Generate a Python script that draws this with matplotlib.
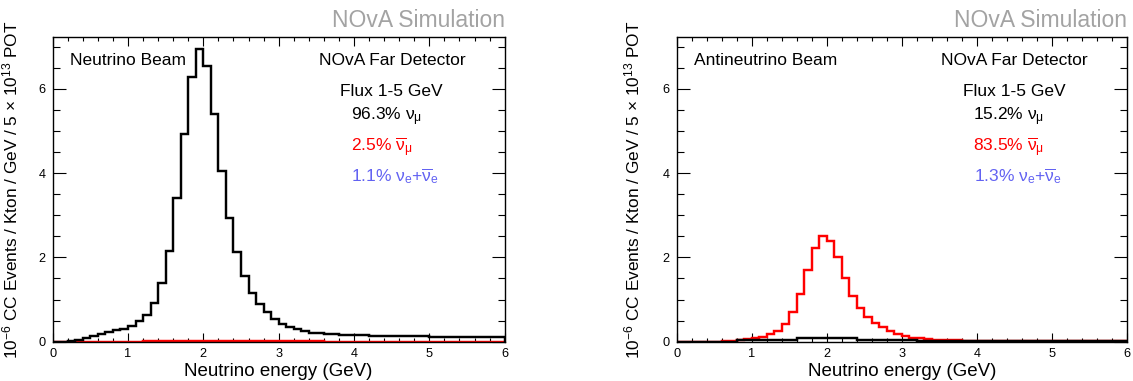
import numpy as np
import matplotlib
matplotlib.use("Agg")
import matplotlib.pyplot as plt
from matplotlib.ticker import MultipleLocator

plt.rcParams['font.family'] = ['Liberation Sans', 'DejaVu Sans']
plt.rcParams['mathtext.fontset'] = 'custom'
plt.rcParams['mathtext.rm'] = 'Liberation Sans'
plt.rcParams['mathtext.it'] = 'Liberation Sans'
plt.rcParams['mathtext.bf'] = 'Liberation Sans:bold'

# 60 bins of 0.1 GeV from 0 to 6 GeV
bin_edges = np.round(np.arange(0, 6.01, 0.1), 2)

# Neutrino beam
nu_beam_numu = [0, 0, 0.02, 0.05, 0.09, 0.13, 0.18, 0.23, 0.28, 0.30,
                0.37, 0.48, 0.64, 0.92, 1.40, 2.15, 3.40, 4.92, 6.28, 6.95,
                6.55, 5.40, 4.05, 2.93, 2.13, 1.55, 1.15, 0.90, 0.70, 0.55,
                0.43, 0.35, 0.30, 0.25, 0.21, 0.20, 0.19, 0.18, 0.17, 0.16,
                0.15, 0.15, 0.14, 0.14, 0.13, 0.13, 0.13, 0.13, 0.13, 0.13,
                0.12, 0.12, 0.12, 0.12, 0.12, 0.12, 0.12, 0.12, 0.12, 0.12]
nu_beam_numubar = [0] * 12 + [0.02] * 24 + [0] * 24

# Antineutrino beam
anu_beam_numu = [0] * 8 + [0.03] * 4 + [0.05] * 4 + [0.09] * 8 + [0.05] * 8 + [0.02] * 28
anu_beam_numubar = [0, 0, 0, 0, 0, 0, 0.01, 0.02, 0.04, 0.06,
                    0.09, 0.12, 0.18, 0.26, 0.42, 0.70, 1.12, 1.70, 2.22, 2.50,
                    2.38, 2.00, 1.50, 1.08, 0.80, 0.58, 0.44, 0.34, 0.25, 0.18,
                    0.13, 0.10, 0.08, 0.06, 0.04, 0.03, 0.03, 0.03, 0.02, 0.02,
                    0.02, 0.02, 0.02, 0.02, 0.02, 0.02, 0.02, 0.02, 0.02, 0.02,
                    0.02, 0.02, 0.02, 0.02, 0.02, 0.02, 0.02, 0.02, 0.02, 0.02]

beam_titles = ["Neutrino Beam", "Antineutrino Beam"]
numu_fracs = ["96.3%", "15.2%"]
numubar_fracs = ["2.5%", "83.5%"]
nue_fracs = ["1.1%", "1.3%"]

BLUE = '#6262f2'
GRAY = '#a3a3a3'
YLABEL = r"$10^{-6}$ CC Events / Kton / GeV / 5 $\times$ $10^{13}$ POT"


def draw_panel(ax, numu, numubar, title, f_numu, f_numubar, f_nue, ylab_x):
    ax.stairs(numubar, bin_edges, color='red', lw=1.75, zorder=2)
    ax.stairs(numu, bin_edges, color='black', lw=1.75, zorder=3)

    ax.set_xlim(0, 6)
    ax.set_ylim(0, 7.22)
    ax.xaxis.set_major_locator(MultipleLocator(1))
    ax.xaxis.set_minor_locator(MultipleLocator(0.2))
    ax.yaxis.set_major_locator(MultipleLocator(2))
    ax.yaxis.set_minor_locator(MultipleLocator(0.5))
    ax.tick_params(which='both', direction='in', top=True, right=True,
                   labelsize=9.2, width=0.8)
    ax.tick_params(axis='y', which='major', length=9.5, pad=5)
    ax.tick_params(axis='y', which='minor', length=5)
    ax.tick_params(axis='x', which='major', length=6.5, pad=4.5)
    ax.tick_params(axis='x', which='minor', length=3.2)
    for sp in ax.spines.values():
        sp.set_linewidth(1.0)
        sp.set_zorder(5)

    ax.set_xlabel("Neutrino energy (GeV)", fontsize=13.5, va='center')
    ax.xaxis.set_label_coords(0.5, -0.097)
    ax.set_ylabel(YLABEL, fontsize=12.4)
    ax.yaxis.set_label_coords(ylab_x, 0.5)

    ax.text(0.038, 0.909, title, transform=ax.transAxes, fontsize=12.5,
            va='baseline', ha='left')
    ax.text(0.751, 0.909, "NOvA Far Detector", transform=ax.transAxes,
            fontsize=12.5, va='baseline', ha='center')
    ax.text(0.750, 0.808, "Flux 1-5 GeV", transform=ax.transAxes,
            fontsize=12.5, va='baseline', ha='center')
    ax.text(0.659, 0.726, f_numu + r" $\nu_{\mu}$", transform=ax.transAxes,
            fontsize=12.5, va='baseline', ha='left', color='black')
    ax.text(0.659, 0.627, f_numubar + r" $\overline{\nu}_{\mu}$", transform=ax.transAxes,
            fontsize=12.5, va='baseline', ha='left', color='red')
    ax.text(0.661, 0.528, f_nue + r" $\nu_{e}$+$\overline{\nu}_{e}$", transform=ax.transAxes,
            fontsize=12.5, va='baseline', ha='left', color=BLUE)

    ax.text(1.0, 1.035, "NOvA Simulation", transform=ax.transAxes,
            fontsize=16.5, va='baseline', ha='right', color=GRAY)


fig = plt.figure(figsize=(11.33, 3.81), dpi=100)
ax1 = fig.add_axes([0.0465, 0.1031, 0.3989, 0.799])
ax2 = fig.add_axes([0.5973, 0.1031, 0.3972, 0.799])

draw_panel(ax1, nu_beam_numu, nu_beam_numubar, beam_titles[0],
           numu_fracs[0], numubar_fracs[0], nue_fracs[0], -0.072)
draw_panel(ax2, anu_beam_numu, anu_beam_numubar, beam_titles[1],
           numu_fracs[1], numubar_fracs[1], nue_fracs[1], -0.077)

fig.savefig("out.png", dpi=100)
